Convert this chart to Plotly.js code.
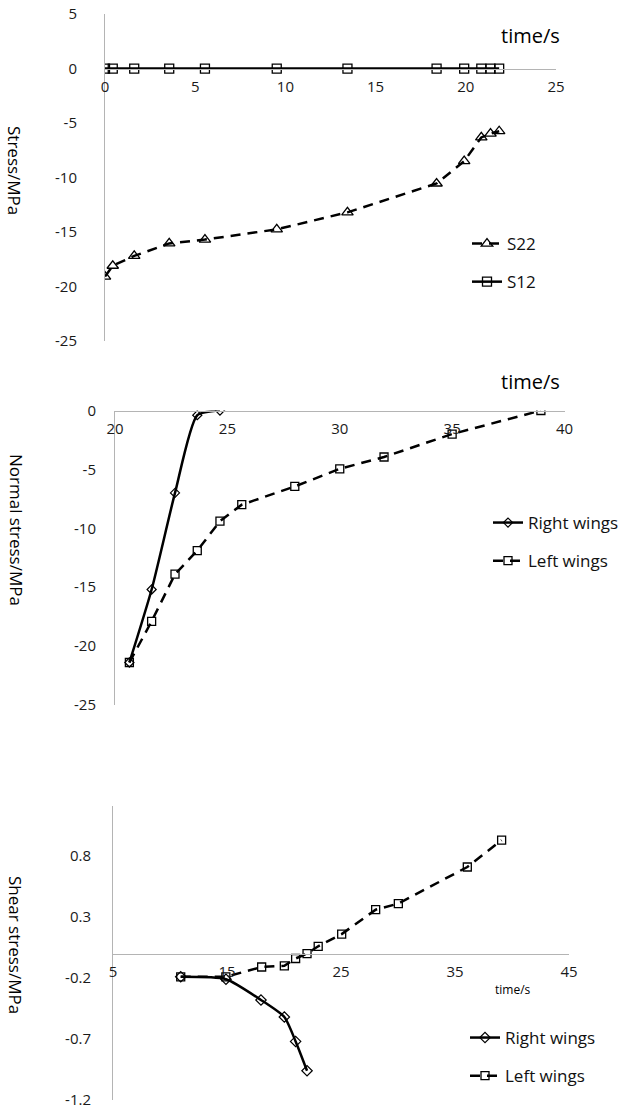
<!DOCTYPE html>
<html>
<head>
<meta charset="utf-8">
<script src="https://cdn.plot.ly/plotly-3.0.1.min.js"></script>
<style>html,body{margin:0;padding:0;background:#fff;}#chart{width:631px;height:1112px;}</style>
</head>
<body>
<div id="chart"></div>
<script>
// ---- Chart 1: Stress vs time ----
const s22Time   = [0, 0.43, 1.62, 3.56, 5.54, 9.52, 13.44, 18.38, 19.91, 20.86, 21.37, 21.85];
const s22Stress = [-19.1, -18.1, -17.2, -16.05, -15.7, -14.76, -13.2, -10.55, -8.5, -6.32, -5.97, -5.75];
const s12Time   = [0, 0.43, 1.62, 3.56, 5.54, 9.52, 13.44, 18.38, 19.91, 20.86, 21.37, 21.85];
const s12Stress = [0, 0, 0, 0, 0, 0, 0, 0, 0, 0, 0, 0];

// ---- Chart 2: Normal stress vs time ----
const normRightTime   = [20.64, 21.63, 22.67, 23.66, 24.67];
const normRightStress = [-21.4, -15.2, -7.0, -0.4, 0];
const normLeftTime    = [20.64, 21.63, 22.67, 23.66, 24.67, 25.64, 28.0, 30.0, 31.97, 35.0, 38.95];
const normLeftStress  = [-21.4, -17.9, -13.9, -11.9, -9.4, -8.0, -6.45, -4.95, -3.95, -2.0, 0];

// ---- Chart 3: Shear stress vs time ----
const shearRightTime   = [10.94, 14.91, 17.98, 20.03, 21.02, 22.02];
const shearRightStress = [-0.19, -0.21, -0.38, -0.52, -0.72, -0.96];
const shearLeftTime    = [10.94, 14.9, 18.04, 20.03, 21.02, 22.02, 23.0, 25.06, 28.04, 30.03, 36.08, 39.09];
const shearLeftStress  = [-0.19, -0.19, -0.11, -0.10, -0.04, 0.0, 0.06, 0.16, 0.36, 0.41, 0.71, 0.93];

// ---- tick labels ----
const x1Ticks = [0, 5, 10, 15, 20, 25];
const x1Text  = ['0', '5', '10', '15', '20', '25'];
const y1Ticks = [5, 0, -5, -10, -15, -20, -25];
const y1Text  = ['5', '0', '-5', '-10', '-15', '-20', '-25'];
const x2Ticks = [20, 25, 30, 35, 40];
const x2Text  = ['20', '25', '30', '35', '40'];
const y2Ticks = [0, -5, -10, -15, -20, -25];
const y2Text  = ['0', '-5', '-10', '-15', '-20', '-25'];
const x3Ticks = [5, 15, 25, 35, 45];
const x3Text  = ['5', '15', '25', '35', '45'];
const y3Ticks = [0.8, 0.3, -0.2, -0.7, -1.2];
const y3Text  = ['0.8', '0.3', '-0.2', '-0.7', '-1.2'];

// axis ranges
const x1Range = [0, 25],  y1Range = [-25.01, 5.01];
const x2Range = [20, 40], y2Range = [-25.01, 0];
const x3Range = [5, 45],  y3Range = [-1.2001, 1.21];

const W = 631, H = 1112;
const px = v => v / W;
const py = v => 1 - v / H;

const y1Dom = [py(341), py(14)];
const y2Dom = [py(705), py(410.5)];
const y3Dom = [py(1100), py(806)];
function zeroPos(range, dom) { return dom[0] + (0 - range[0]) / (range[1] - range[0]) * (dom[1] - dom[0]); }

const FONT = 'Open Sans, Noto Sans, sans-serif';
const axisColor = '#b4b4b4';
const tickFont = {family: FONT, size: 15, color: '#1a1a1a'};

const dashPat = '10px,7px';

const traces = [
  {x: s22Time, y: s22Stress, name: 'S22', type: 'scatter', mode: 'lines+markers',
   line: {color: '#000', width: 2.5, dash: dashPat},
   marker: {symbol: 'triangle-up-open', size: 10, color: '#000', line: {width: 1.3}},
   xaxis: 'x', yaxis: 'y', legend: 'legend', legendgroup: 'a'},
  {x: s12Time, y: s12Stress, name: 'S12', type: 'scatter', mode: 'lines+markers',
   line: {color: '#000', width: 2.5},
   marker: {symbol: 'square-open', size: 9, color: '#000', line: {width: 1.3}},
   xaxis: 'x', yaxis: 'y', legend: 'legend', legendgroup: 'b'},

  {x: normRightTime, y: normRightStress, name: 'Right wings', type: 'scatter', mode: 'lines+markers',
   line: {color: '#000', width: 2.5, shape: 'spline', smoothing: 0.6},
   marker: {symbol: 'diamond-open', size: 7, color: '#000', line: {width: 1.2}},
   xaxis: 'x2', yaxis: 'y2', legend: 'legend2', legendgroup: 'c'},
  {x: normLeftTime, y: normLeftStress, name: 'Left wings', type: 'scatter', mode: 'lines+markers',
   line: {color: '#000', width: 2.5, dash: dashPat},
   marker: {symbol: 'square-open', size: 8, color: '#000', line: {width: 1.3}},
   xaxis: 'x2', yaxis: 'y2', legend: 'legend2', legendgroup: 'd'},

  {x: shearRightTime, y: shearRightStress, name: 'Right wings', type: 'scatter', mode: 'lines+markers',
   line: {color: '#000', width: 2.5, shape: 'spline', smoothing: 0.6},
   marker: {symbol: 'diamond-open', size: 8, color: '#000', line: {width: 1.2}},
   xaxis: 'x3', yaxis: 'y3', legend: 'legend3', legendgroup: 'e'},
  {x: shearLeftTime, y: shearLeftStress, name: 'Left wings', type: 'scatter', mode: 'lines+markers',
   line: {color: '#000', width: 2.5, dash: dashPat},
   marker: {symbol: 'square-open', size: 8, color: '#000', line: {width: 1.3}},
   xaxis: 'x3', yaxis: 'y3', legend: 'legend3', legendgroup: 'f'}
];

function xAx(range, dom, yRange, yDom, tv, tt) {
  return {range: range, domain: dom, anchor: 'free', position: zeroPos(yRange, yDom),
    showline: true, linecolor: axisColor, linewidth: 1, showgrid: false, zeroline: false,
    ticks: 'outside', ticklen: 4, tickcolor: 'rgba(0,0,0,0)', tickmode: 'array', tickvals: tv, ticktext: tt,
    tickfont: tickFont, fixedrange: true};
}
function yAx(range, dom, xname, tv, tt, standoff) {
  return {range: range, domain: dom, anchor: xname, showline: true, linecolor: axisColor, linewidth: 1,
    showgrid: false, zeroline: false, ticks: 'outside', ticklen: standoff, tickcolor: 'rgba(0,0,0,0)',
    tickmode: 'array', tickvals: tv, ticktext: tt, tickfont: tickFont, fixedrange: true};
}

const legendBase = {font: {family: FONT, size: 17, color: '#111'}, bgcolor: 'rgba(0,0,0,0)',
  xanchor: 'left', yanchor: 'top', tracegroupgap: 13, itemclick: false};

const annFont = (s) => ({family: FONT, size: s, color: '#000'});

const layout = {
  width: W, height: H, margin: {l: 0, r: 0, t: 0, b: 0},
  paper_bgcolor: '#fff', plot_bgcolor: 'rgba(0,0,0,0)', font: {family: FONT},
  xaxis:  xAx(x1Range, [px(105), px(556)], y1Range, y1Dom, x1Ticks, x1Text),
  yaxis:  yAx(y1Range, y1Dom, 'x', y1Ticks, y1Text, 24),
  xaxis2: xAx(x2Range, [px(115), px(564.5)], y2Range, y2Dom, x2Ticks, x2Text),
  yaxis2: yAx(y2Range, y2Dom, 'x2', y2Ticks, y2Text, 15),
  xaxis3: xAx(x3Range, [px(113), px(569)], y3Range, y3Dom, x3Ticks, x3Text),
  yaxis3: yAx(y3Range, y3Dom, 'x3', y3Ticks, y3Text, 18),
  legend:  Object.assign({}, legendBase, {x: px(467), y: py(226)}),
  legend2: Object.assign({}, legendBase, {x: px(488), y: py(505)}),
  legend3: Object.assign({}, legendBase, {x: px(465), y: py(1020)}),
  showlegend: true,
  annotations: [
    {text: 'time/s', xref: 'paper', yref: 'paper', x: px(530), y: py(35), showarrow: false, font: annFont(20), xanchor: 'center', yanchor: 'middle'},
    {text: 'time/s', xref: 'paper', yref: 'paper', x: px(530), y: py(382), showarrow: false, font: annFont(20), xanchor: 'center', yanchor: 'middle'},
    {text: 'time/s', xref: 'paper', yref: 'paper', x: px(513), y: py(989), showarrow: false, font: annFont(12), xanchor: 'center', yanchor: 'middle'},
    {text: 'Stress/MPa', xref: 'paper', yref: 'paper', x: px(14), y: py(170), textangle: 90, showarrow: false, font: annFont(17), xanchor: 'center', yanchor: 'middle'},
    {text: 'Normal stress/MPa', xref: 'paper', yref: 'paper', x: px(16), y: py(530), textangle: 90, showarrow: false, font: annFont(17), xanchor: 'center', yanchor: 'middle'},
    {text: 'Shear stress/MPa', xref: 'paper', yref: 'paper', x: px(16), y: py(945), textangle: 90, showarrow: false, font: annFont(17), xanchor: 'center', yanchor: 'middle'}
  ]
};

Plotly.newPlot('chart', traces, layout, {displayModeBar: false, staticPlot: true});
</script>
</body>
</html>
